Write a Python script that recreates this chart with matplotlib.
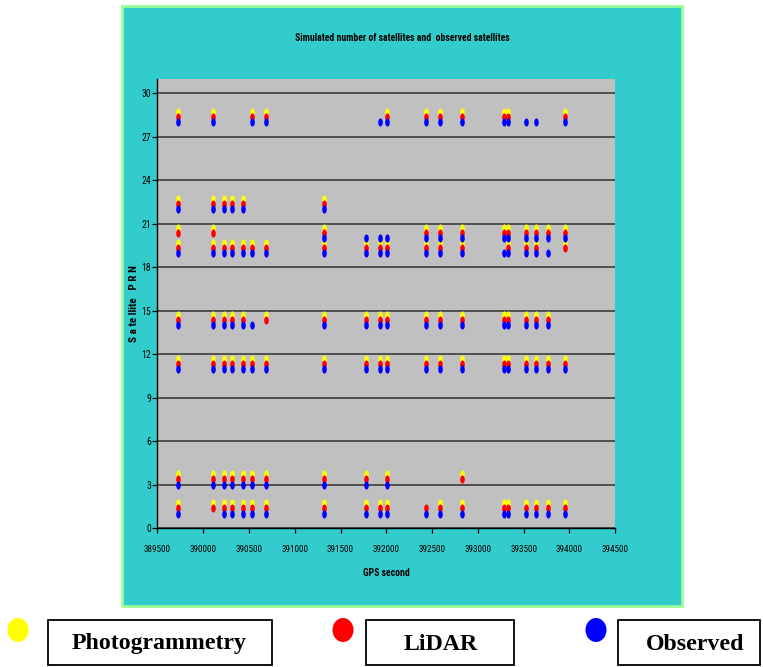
import matplotlib
matplotlib.use("Agg")
import matplotlib.pyplot as plt
from matplotlib.path import Path
from matplotlib.patches import Rectangle, Ellipse
from matplotlib import font_manager
import numpy as np

# GPS epochs (seconds of week) at which satellites were sampled
gps_epochs = [389730, 390110, 390230, 390320, 390430, 390530, 390690, 391320,
              391780, 391930, 392010, 392430, 392590, 392830, 393290, 393330,
              393530, 393630, 393770, 393950]

# Satellite PRN -> indices of epochs where each source sees the satellite
photogrammetry_vis = {
    28: [0, 1, 5, 6, 10, 11, 12, 13, 14, 15, 19],
    22: [0, 1, 2, 3, 4, 7],
    20: [0, 1, 7, 11, 12, 13, 14, 15, 16, 17, 18, 19],
    19: [0, 1, 2, 3, 4, 5, 6, 7, 8, 9, 10, 11, 12, 13, 15, 16, 17, 19],
    14: [0, 1, 2, 3, 4, 6, 7, 8, 9, 10, 11, 12, 13, 14, 15, 16, 17, 18],
    11: list(range(20)),
    3: [0, 1, 2, 3, 4, 5, 6, 7, 8, 10, 13],
    1: [0, 1, 2, 3, 4, 5, 6, 7, 8, 9, 10, 12, 13, 14, 15, 16, 17, 18, 19],
}
lidar_vis = {
    28: [0, 1, 5, 6, 10, 11, 12, 13, 14, 15, 19],
    22: [0, 1, 2, 3, 4, 7],
    20: [0, 1, 7, 11, 12, 13, 14, 15, 16, 17, 18, 19],
    19: [0, 1, 2, 3, 4, 5, 6, 7, 8, 9, 10, 11, 12, 13, 15, 16, 17, 19],
    14: [0, 1, 2, 3, 4, 6, 7, 8, 9, 10, 11, 12, 13, 14, 15, 16, 17, 18],
    11: list(range(20)),
    3: [0, 1, 2, 3, 4, 5, 6, 7, 8, 10, 13],
    1: list(range(20)),
}
observed_vis = {
    28: [0, 1, 5, 6, 9, 10, 11, 12, 13, 14, 15, 16, 17, 19],
    22: [0, 1, 2, 3, 4, 7],
    20: [7, 8, 9, 10, 11, 12, 13, 14, 15, 16, 17, 18, 19],
    19: list(range(19)),
    14: [0, 1, 2, 3, 4, 5, 7, 8, 9, 10, 11, 12, 13, 14, 15, 16, 17, 18],
    11: list(range(20)),
    3: [0, 1, 2, 3, 4, 5, 6, 7, 8, 10],
    1: [0, 2, 3, 4, 5, 6, 7, 8, 9, 10, 11, 12, 13, 14, 15, 16, 17, 18, 19],
}

series_names = ["Photogrammetry", "LiDAR", "Observed"]
series_colors = ["#FFFF00", "#FF0000", "#0000FF"]
# small vertical shift so stacked sources stay distinguishable
series_shift = [0.7, 0.35, 0.0]

y_ticks = list(range(0, 31, 3))
x_ticks = list(range(389500, 394501, 500))


def pick_font(cands, fallback):
    names = {f.name for f in font_manager.fontManager.ttflist}
    for c in cands:
        if c in names:
            return c, True
    return fallback, False


narrow, is_narrow = pick_font(["Liberation Sans Narrow", "Arial Narrow",
                               "DejaVu Sans Condensed", "Roboto Condensed",
                               "Open Sans Condensed"], "Liberation Sans")
k = 1.0 if is_narrow else 0.82

fig = plt.figure(figsize=(7.63, 6.67), dpi=100)
fig.patch.set_facecolor("white")

# teal chart panel
fig.add_artist(Rectangle((0.1605, 0.0915), 0.7335, 0.900, transform=fig.transFigure,
                         facecolor="#33CCCC", edgecolor="#99FF99", linewidth=2, zorder=-2))

ax = fig.add_axes([0.2062, 0.2084, 0.6002, 0.6732])
ax.set_facecolor("#C0C0C0")

# vertical ellipse marker
t = np.linspace(0, 2 * np.pi, 40)
ell = Path(np.column_stack([0.57 * np.cos(t), np.sin(t)]), closed=True)

for vis, color, shift in zip([photogrammetry_vis, lidar_vis, observed_vis],
                             series_colors, series_shift):
    xs, ys = [], []
    for prn, idx in vis.items():
        for i in idx:
            xs.append(gps_epochs[i])
            ys.append(prn + shift)
    ax.plot(xs, ys, linestyle="none", marker=ell, markersize=5.8,
            markerfacecolor=color, markeredgewidth=0, zorder=3)

ax.set_xlim(389500, 394500)
ax.set_ylim(0, 31)
ax.set_xticks(x_ticks)
ax.set_yticks(y_ticks)
ax.set_xticklabels([str(v) for v in x_ticks], fontsize=6.6 * k, family=narrow)
ax.set_yticklabels([str(v) for v in y_ticks], fontsize=7 * k, family=narrow)
ax.tick_params(axis="both", direction="out", length=3.5, width=0.9, color="black", pad=1)
ax.tick_params(axis="x", pad=9)
ax.grid(axis="y", color="#303030", linewidth=1.1, zorder=1)
ax.set_axisbelow(True)
for s in ["top", "right"]:
    ax.spines[s].set_visible(False)
for s in ["left", "bottom"]:
    ax.spines[s].set_color("black")
    ax.spines[s].set_linewidth(1.0)

ax.set_xlabel("GPS second", fontsize=7 * k, family=narrow, fontweight="bold", labelpad=10)
ax.set_ylabel("S a te llite   P R N", fontsize=8 * k, family=narrow, fontweight="bold")
ax.yaxis.set_label_coords(-0.039, 0.5)

fig.text(0.5275, 0.943, "Simulated number of satellites and  observed satellites",
         ha="center", va="center", fontsize=7 * k, family=narrow, fontweight="bold")

# legend: coloured dots with boxed captions
dot_x = [18, 343, 596]
box_x = [(48, 272), (366, 514), (618, 760)]
text_x = [159, 441, 695]
W, H = 763.0, 667.0
for name, color, dx, (bx0, bx1), tx in zip(series_names, series_colors, dot_x, box_x, text_x):
    fig.add_artist(Ellipse((dx / W, 1 - 630 / H), 21 / W, 24 / H,
                           transform=fig.transFigure, facecolor=color, edgecolor="none"))
    fig.add_artist(Rectangle((bx0 / W, 1 - 665 / H), (bx1 - bx0) / W, 45 / H,
                             transform=fig.transFigure, facecolor="white",
                             edgecolor="black", linewidth=1.3))
    fig.text(tx / W, 1 - 644 / H, name, ha="center", va="center",
             fontsize=17.2, family="Liberation Serif", fontweight="bold")

fig.savefig("out.png", dpi=100)
